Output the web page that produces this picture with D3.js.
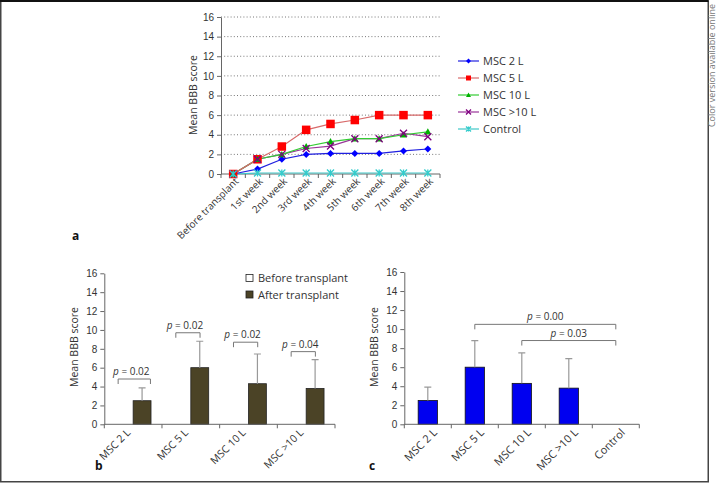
<!DOCTYPE html>
<html>
<head>
<meta charset="utf-8">
<script src="https://cdn.jsdelivr.net/npm/d3@7"></script>
<style>
  body { margin: 0; background: #fff; }
  svg { font-family: "Open Sans", "Noto Sans", sans-serif; }
  .tick text { fill: #333; font-size: 10px; }
  .axis path, .axis line { stroke: #666; }
</style>
</head>
<body>
<svg id="fig" width="717" height="483"></svg>
<script>
// panel a: weekly means
const weeks = ["Before transplant", "1st week", "2nd week", "3rd week", "4th week", "5th week", "6th week", "7th week", "8th week"];
const msc2 = [0, 0.5, 1.5, 2.0, 2.1, 2.1, 2.1, 2.35, 2.55];
const msc5 = [0, 1.5, 2.8, 4.5, 5.1, 5.5, 6.0, 6.0, 6.0];
const msc10 = [0, 1.5, 2.0, 2.8, 3.3, 3.6, 3.6, 4.0, 4.3];
const msc10plus = [0, 1.5, 2.0, 2.6, 2.85, 3.6, 3.6, 4.15, 3.8];
const control = [0, 0.1, 0.1, 0.1, 0.1, 0.1, 0.1, 0.1, 0.1];
const seriesNames = ["MSC 2 L", "MSC 5 L", "MSC 10 L", "MSC >10 L", "Control"];

// panel b: before / after
const groups = ["MSC 2 L", "MSC 5 L", "MSC 10 L", "MSC >10 L"];
const phases = ["Before transplant", "After transplant"];
const beforeMeans = [0, 0, 0, 0];
const afterMeans = [2.5, 6.0, 4.3, 3.8];
const afterSD = [1.35, 2.8, 3.15, 3.05];
const pValuesB = ["0.02", "0.02", "0.02", "0.04"];
const bracketYB = [4.8, 9.7, 8.7, 7.7];

// panel c: groups vs control
const groupsC = ["MSC 2 L", "MSC 5 L", "MSC 10 L", "MSC >10 L", "Control"];
const meansC = [2.5, 6.0, 4.3, 3.8, 0];
const sdC = [1.4, 2.8, 3.2, 3.1, 0];
const pFromC = ["MSC 5 L", "MSC 10 L"];
const pToC = ["Control", "Control"];
const pValuesC = ["0.00", "0.03"];
const bracketYC = [10.5, 8.8];

const yTicks = [0, 2, 4, 6, 8, 10, 12, 14, 16];

const svg = d3.select("#fig");

// frame
svg.append("rect")
  .attr("x", 0.75).attr("y", 1).attr("width", 707.5).attr("height", 480.75)
  .attr("fill", "none").attr("stroke", "#444").attr("stroke-width", 1.5);
svg.append("line").attr("x1", 0).attr("x2", 708.5).attr("y1", 1).attr("y2", 1)
  .attr("stroke", "#111").attr("stroke-width", 2);
svg.append("text")
  .attr("transform", "translate(714.5,4) rotate(-90)")
  .attr("text-anchor", "end")
  .attr("font-size", 9).attr("fill", "#777")
  .text("Color version available online");

function yAxisLabel(x, y) {
  svg.append("text")
    .attr("transform", `translate(${x},${y}) rotate(-90)`)
    .attr("text-anchor", "middle")
    .attr("font-size", 10.5).attr("fill", "#333")
    .text("Mean BBB score");
}

function panelLetter(x, y, t) {
  svg.append("text").attr("x", x).attr("y", y)
    .attr("font-weight", "bold").attr("font-size", 12).attr("fill", "#111")
    .text(t);
}

function pLabel(g, x, y, val) {
  const t = g.append("text").attr("x", x).attr("y", y)
    .attr("text-anchor", "middle").attr("font-size", 10).attr("fill", "#333");
  t.append("tspan").attr("font-style", "italic").text("p");
  t.append("tspan").text(" = " + val);
}

function drawYAxis(g, y) {
  g.append("g").attr("class", "axis")
    .call(d3.axisLeft(y).tickValues(yTicks).tickSize(4).tickPadding(3).tickSizeOuter(0));
}

function drawXAxisBands(g, x, y0, labels, dx, dy, fs) {
  const ax = g.append("g").attr("class", "axis").attr("transform", `translate(0,${y0})`);
  const r = x.range();
  ax.append("line").attr("x1", r[0]).attr("x2", r[1]).attr("stroke", "#666");
  const bounds = x.domain().map(d => x(d)).concat([r[1]]);
  ax.selectAll(".bt").data(bounds).join("line")
    .attr("x1", d => d).attr("x2", d => d).attr("y1", 0).attr("y2", 4)
    .attr("stroke", "#666");
  ax.selectAll(".lbl").data(labels).join("text")
    .attr("transform", d => `translate(${x(d) + x.bandwidth() / 2 + dx},${dy}) rotate(-45)`)
    .attr("text-anchor", "end").attr("font-size", fs).attr("fill", "#333")
    .text(d => d);
}

// ---------- panel a ----------
const ga = svg.append("g");
const xa = d3.scaleBand().domain(weeks).range([221, 440]);
const ya = d3.scaleLinear().domain([0, 16]).range([174, 17]);

ga.selectAll(".grid").data(yTicks.filter(d => d > 0)).join("line")
  .attr("x1", 221).attr("x2", 440).attr("y1", d => ya(d)).attr("y2", d => ya(d))
  .attr("stroke", "#777").attr("stroke-dasharray", "1,2.2");

drawYAxis(ga.append("g").attr("transform", "translate(221,0)"), ya);
drawXAxisBands(ga, xa, 174, weeks, 6, 8, 10);
yAxisLabel(197, 95);
panelLetter(72, 240, "a");

const seriesA = [
  { name: seriesNames[0], values: msc2, line: "#2020e0", fill: "#0000ff", shape: "diamond" },
  { name: seriesNames[1], values: msc5, line: "#d86a6a", fill: "#ff0000", shape: "square" },
  { name: seriesNames[2], values: msc10, line: "#33cc33", fill: "#00b000", shape: "triangle" },
  { name: seriesNames[3], values: msc10plus, line: "#993399", fill: "#800080", shape: "x" },
  { name: seriesNames[4], values: control, line: "#40c8c8", fill: "#33cccc", shape: "star" }
];

function marker(sel, s, size) {
  const h = size / 2;
  if (s.shape === "diamond") {
    sel.append("path").attr("d", `M0,${-h}L${h},0L0,${h}L${-h},0Z`).attr("fill", s.fill);
  } else if (s.shape === "square") {
    sel.append("rect").attr("x", -h).attr("y", -h).attr("width", size).attr("height", size)
      .attr("fill", s.fill);
  } else if (s.shape === "triangle") {
    sel.append("path").attr("d", `M0,${-h}L${h},${h * 0.8}L${-h},${h * 0.8}Z`).attr("fill", s.fill);
  } else if (s.shape === "x") {
    sel.append("path").attr("d", `M${-h},${-h}L${h},${h}M${-h},${h}L${h},${-h}`)
      .attr("stroke", s.fill).attr("stroke-width", 1.3);
  } else {
    sel.append("path").attr("d", `M${-h},${-h}L${h},${h}M${-h},${h}L${h},${-h}M0,${-h}L0,${h}`)
      .attr("stroke", s.fill).attr("stroke-width", 1.3);
  }
}

const cx = d => xa(d) + xa.bandwidth() / 2;
const lineGen = d3.line().x((d, i) => cx(weeks[i])).y(d => ya(d));

seriesA.slice().reverse().forEach(s => {
  ga.append("path").datum(s.values).attr("d", lineGen)
    .attr("fill", "none").attr("stroke", s.line).attr("stroke-width", 1.2);
});
seriesA.forEach(s => {
  s.values.forEach((v, i) => {
    const m = ga.append("g").attr("transform", `translate(${cx(weeks[i])},${ya(v)})`);
    marker(m, s, s.shape === "square" ? 8.5 : 7);
  });
});

// legend a
const lg = ga.append("g").attr("transform", "translate(458,61)");
seriesA.forEach((s, i) => {
  const row = lg.append("g").attr("transform", `translate(0,${i * 17})`);
  row.append("line").attr("x1", 0).attr("x2", 21).attr("stroke", s.line).attr("stroke-width", 1.2);
  marker(row.append("g").attr("transform", "translate(10.5,0)"), s, 5);
  row.append("text").attr("x", 25).attr("y", 4).attr("font-size", 11).attr("fill", "#333").text(s.name);
});

// ---------- panel b ----------
const gb = svg.append("g");
const xb = d3.scaleBand().domain(groups).range([104.3, 335]);
const xbInner = d3.scaleBand().domain(phases).range([xb.bandwidth() * 0.19, xb.bandwidth() * 0.81]);
const yb = d3.scaleLinear().domain([0, 16]).range([424.3, 273.3]);

const barsB = groups.map((g, i) => [
  { g, phase: phases[0], v: beforeMeans[i] },
  { g, phase: phases[1], v: afterMeans[i], sd: afterSD[i] }
]).flat();

gb.selectAll(".bar").data(barsB).join("rect")
  .attr("x", d => xb(d.g) + xbInner(d.phase))
  .attr("width", xbInner.bandwidth())
  .attr("y", d => yb(d.v))
  .attr("height", d => yb(0) - yb(d.v))
  .attr("fill", d => d.phase === phases[0] ? "#fff" : "#4b4326")
  .attr("stroke", "#222").attr("stroke-width", 0.8);

const errB = barsB.filter(d => d.sd);
const ebx = d => xb(d.g) + xbInner(d.phase) + xbInner.bandwidth() / 2;
gb.selectAll(".err").data(errB).join("path")
  .attr("d", d => `M${ebx(d)},${yb(d.v)}V${yb(d.v + d.sd)}M${ebx(d) - 3.5},${yb(d.v + d.sd)}H${ebx(d) + 3.5}`)
  .attr("stroke", "#999").attr("stroke-width", 1.2).attr("fill", "none");

groups.forEach((g, i) => {
  const x1 = xb(g) + xb.bandwidth() * 0.24;
  const x2 = xb(g) + xb.bandwidth() * (i === 0 ? 0.8 : 0.66);
  const y = yb(bracketYB[i]);
  gb.append("path").attr("d", `M${x1},${y + 5}V${y}H${x2}V${y + 5}`)
    .attr("fill", "none").attr("stroke", "#777").attr("stroke-width", 1);
  pLabel(gb, (x1 + x2) / 2 - 3, y - 4, pValuesB[i]);
});

drawYAxis(gb.append("g").attr("transform", "translate(104.3,0)"), yb);
drawXAxisBands(gb, xb, 424.3, groups, -2, 9, 10.5);
yAxisLabel(78, 347);
panelLetter(95, 470, "b");

// legend b
const lgb = gb.append("g").attr("transform", "translate(246,278)");
phases.forEach((p, i) => {
  const row = lgb.append("g").attr("transform", `translate(0,${i * 16.5})`);
  row.append("rect").attr("x", 0).attr("y", -3.5).attr("width", 7).attr("height", 7)
    .attr("fill", i === 0 ? "#fff" : "#4b4326").attr("stroke", "#222").attr("stroke-width", 0.8);
  row.append("text").attr("x", 12).attr("y", 4).attr("font-size", 11).attr("fill", "#333").text(p);
});

// ---------- panel c ----------
const gc = svg.append("g");
const xc = d3.scaleBand().domain(groupsC).range([404.3, 639.3]).paddingInner(0).paddingOuter(0);
const yc = d3.scaleLinear().domain([0, 16]).range([424.3, 272]);
const bwC = xc.bandwidth() * 0.41;
const ccx = g => xc(g) + xc.bandwidth() / 2;

const barsC = groupsC.map((g, i) => ({ g, v: meansC[i], sd: sdC[i] }));
gc.selectAll(".bar").data(barsC.filter(d => d.v > 0)).join("rect")
  .attr("x", d => ccx(d.g) - bwC / 2).attr("width", bwC)
  .attr("y", d => yc(d.v)).attr("height", d => yc(0) - yc(d.v))
  .attr("fill", "#0000f0").attr("stroke", "#111").attr("stroke-width", 0.8);

gc.selectAll(".err").data(barsC.filter(d => d.sd > 0)).join("path")
  .attr("d", d => `M${ccx(d.g)},${yc(d.v)}V${yc(d.v + d.sd)}M${ccx(d.g) - 3.5},${yc(d.v + d.sd)}H${ccx(d.g) + 3.5}`)
  .attr("stroke", "#999").attr("stroke-width", 1.2).attr("fill", "none");

pFromC.forEach((f, i) => {
  const x1 = ccx(f), x2 = ccx(pToC[i]);
  const y = yc(bracketYC[i]);
  gc.append("path").attr("d", `M${x1},${y + 5}V${y}H${x2}V${y + 5}`)
    .attr("fill", "none").attr("stroke", "#777").attr("stroke-width", 1);
  pLabel(gc, (x1 + x2) / 2, y - 4, pValuesC[i]);
});

drawYAxis(gc.append("g").attr("transform", "translate(404.3,0)"), yc);
drawXAxisBands(gc, xc, 424.3, groupsC, 10, 9, 11);
yAxisLabel(378, 347);
panelLetter(369, 470, "c");
</script>
</body>
</html>
